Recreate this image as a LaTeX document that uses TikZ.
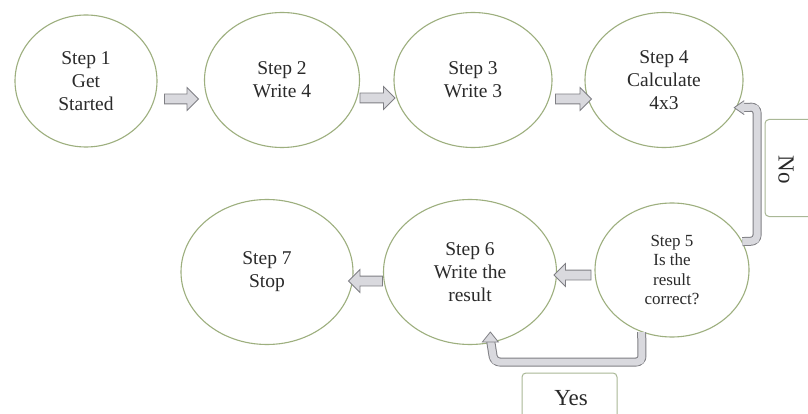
\documentclass[tikz,border=0pt]{standalone}
\usepackage{fontspec}
\setmainfont{Liberation Serif}
\usetikzlibrary{shapes.geometric,shapes.arrows}
\definecolor{ringc}{HTML}{9DAF7E}
\definecolor{arrowfill}{HTML}{D9D9DE}
\definecolor{arrowline}{HTML}{7F7F84}
\definecolor{boxc}{HTML}{A9B896}
\definecolor{textc}{HTML}{2A2A2A}
\tikzset{
  stepnode/.style={ellipse, draw=ringc, line width=1.1pt, inner sep=0pt, align=center,
    text=textc, font=\fontsize{19.5}{23}\selectfont},
  blockarrow/.style={single arrow, draw=arrowline, fill=arrowfill, line width=0.8pt,
    inner sep=4.5pt, single arrow head extend=6.5pt, minimum height=#1},
  blockarrow/.default=34pt,
  bandout/.style={draw=arrowline, line width=9pt, rounded corners=6pt},
  bandin/.style={draw=arrowfill, line width=7pt, rounded corners=5pt},
  labelbox/.style={draw=boxc, line width=1pt, rounded corners=4pt, fill=white},
  labeltext/.style={text=textc, font=\fontsize{23}{26}\selectfont}
}
\begin{document}
\begin{tikzpicture}[x=1pt,y=-1pt]
\useasboundingbox (0,0) rectangle (808,414);
\fill[white] (0,0) rectangle (808,414);
% label boxes
\node[labelbox, minimum width=60pt, minimum height=97pt] (nobox) at (795,168) {};
\node[labeltext, rotate=-90] (notext) at (786,170) {No};
\node[labelbox, minimum width=95pt, minimum height=60pt] (yesbox) at (569.5,403) {};
\node[labeltext] (yestext) at (571,398) {Yes};
% ellipses
\node[stepnode, minimum width=142pt, minimum height=132pt] (e1) at (86,81) {Step 1\\Get\\Started};
\node[stepnode, minimum width=155pt, minimum height=135pt] (e2) at (282,80) {Step 2\\Write 4};
\node[stepnode, minimum width=158pt, minimum height=135pt] (e3) at (473,80) {Step 3\\Write 3};
\node[stepnode, minimum width=158pt, minimum height=135pt] (e4) at (664,80) {Step 4\\Calculate\\4x3};
\node[stepnode, minimum width=154pt, minimum height=134pt, font=\fontsize{17}{19.5}\selectfont] (e5) at (672,270) {Step 5\\Is the\\result\\correct?};
\node[stepnode, minimum width=173pt, minimum height=145pt] (e6) at (470,272) {Step 6\\Write the\\result};
\node[stepnode, minimum width=172pt, minimum height=145pt] (e7) at (267,272) {Step 7\\Stop};
% straight block arrows
\node[blockarrow=34pt] (a12) at (179,99) {};
\node[blockarrow=35pt] (a23) at (375,98) {};
\node[blockarrow=36pt] (a34) at (571,99) {};
\node[blockarrow=37pt, shape border rotate=180] (a56) at (575,275) {};
\node[blockarrow=34pt, shape border rotate=180] (a67) at (368,281) {};
% No: from e5 back up to e4
\coordinate (nostart) at (e5.22);
\coordinate (noend) at ([xshift=3pt,yshift=-1pt]e4.-20);
\draw[bandout] (nostart) -- (757,241) -- (757,107) -- (noend);
\draw[bandin] (nostart) -- (757,241) -- (757,107) -- (noend);
\draw[arrowline, line width=0.8pt, fill=arrowfill] (noend) ++(4,-7) -- ++(-10,7) -- ++(10,7);
% Yes: from e5 down and back to e6
\coordinate (yesstart) at (e5.-116);
\coordinate (yesend) at ([yshift=4pt]e6.-74);
\draw[bandout] (yesstart) -- (642,362) -- (494,362) -- (yesend);
\draw[bandin] (yesstart) -- (642,362) -- (494,362) -- (yesend);
\draw[arrowline, line width=0.8pt, fill=arrowfill] (yesend) ++(-8,3) -- ++(8,-10) -- ++(8,10) -- cycle;
\end{tikzpicture}
\end{document}
